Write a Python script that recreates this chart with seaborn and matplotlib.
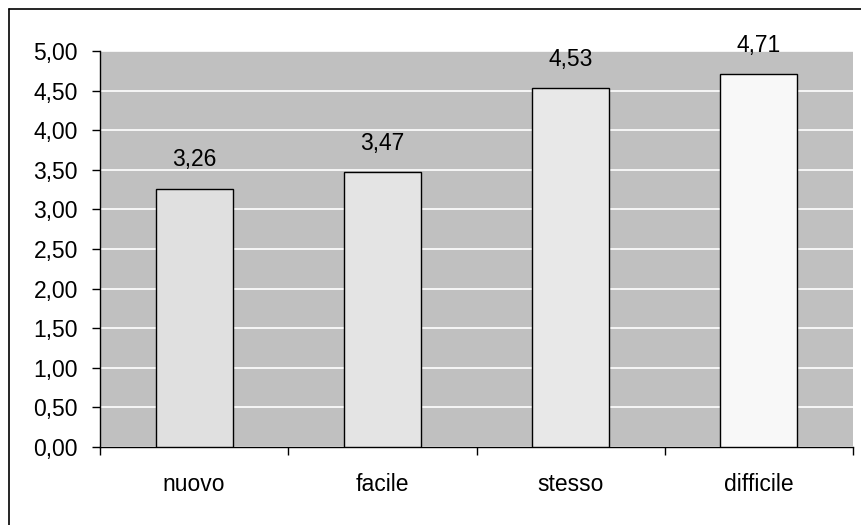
import matplotlib
matplotlib.use("Agg")
import matplotlib.pyplot as plt
from matplotlib.lines import Line2D
from matplotlib.ticker import FixedLocator, FuncFormatter
import seaborn as sns
import pandas as pd

categories = ["nuovo", "facile", "stesso", "difficile"]
values = [3.26, 3.47, 4.53, 4.71]
bar_colors = ["#E0E0E0", "#E4E4E4", "#E8E8E8", "#F8F8F8"]
y_ticks = [0.0, 0.5, 1.0, 1.5, 2.0, 2.5, 3.0, 3.5, 4.0, 4.5, 5.0]

sns.set_theme(style="white")
plt.rcParams["font.family"] = ["Liberation Sans", "DejaVu Sans"]

df = pd.DataFrame({"categoria": categories, "valore": values})

fig = plt.figure(figsize=(8.61, 5.25), dpi=100)
ax = fig.add_axes([100 / 861, 1 - 447 / 525, 753 / 861, 396 / 525])
ax.set_facecolor("#C0C0C0")

sns.barplot(data=df, x="categoria", y="valore", hue="categoria",
            palette=bar_colors, width=0.41, edgecolor="black",
            linewidth=1.0, legend=False, ax=ax, zorder=3)

ax.set_ylim(0, 5)
ax.set_xlim(-0.5, len(categories) - 0.5)
ax.yaxis.set_major_locator(FixedLocator(y_ticks))
ax.yaxis.set_major_formatter(FuncFormatter(lambda v, _: f"{v:.2f}".replace(".", ",")))
ax.grid(axis="y", color="white", linewidth=1.2, zorder=1)
ax.grid(axis="x", visible=False)
ax.set_axisbelow(True)

# category boundaries carry the x ticks; labels sit at bar centres
ax.xaxis.set_minor_locator(FixedLocator([i - 0.5 for i in range(len(categories) + 1)]))
ax.tick_params(axis="x", which="major", length=0, pad=19, labelsize=16.5, colors="black")
ax.tick_params(axis="x", which="minor", length=6, width=1, direction="out",
               color="black", bottom=True)
ax.tick_params(axis="y", which="major", length=6, width=1, direction="out",
               pad=10, labelsize=16.5, colors="black", left=True)

ax.set_xlabel("")
ax.set_ylabel("")
for side in ("top", "right"):
    ax.spines[side].set_visible(False)
for side in ("left", "bottom"):
    ax.spines[side].set_visible(True)
    ax.spines[side].set_color("black")
    ax.spines[side].set_linewidth(1.0)

for i, v in enumerate(values):
    ax.annotate(f"{v:.2f}".replace(".", ","), xy=(i, v), xytext=(0, 12.5),
                textcoords="offset points", ha="center", va="bottom",
                fontsize=16.5, color="black")

# chart frame (left and top edges)
x0, y0 = 8.5 / 861, 1 - 9 / 525
fig.add_artist(Line2D([x0, x0], [0, y0], transform=fig.transFigure,
                      color="black", linewidth=1.2))
fig.add_artist(Line2D([x0, 1], [y0, y0], transform=fig.transFigure,
                      color="black", linewidth=1.2))

fig.savefig("out.png", dpi=100, facecolor="white")
